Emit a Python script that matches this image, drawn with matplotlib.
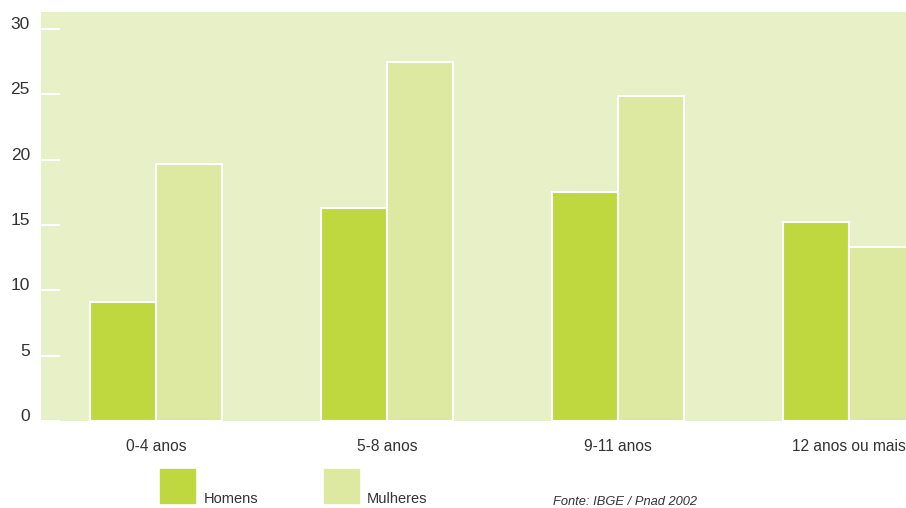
import matplotlib
matplotlib.use("Agg")
import matplotlib.pyplot as plt
import numpy as np

plt.rcParams['font.family'] = ['Liberation Sans', 'DejaVu Sans']

# dados: anos de estudo, por sexo (%)
categorias = ['0-4 anos', '5-8 anos', '9-11 anos', '12 anos ou mais']
homens = [9.1, 16.3, 17.5, 15.2]
mulheres = [19.7, 27.5, 24.9, 13.3]
yticks = [0, 5, 10, 15, 20, 25, 30]

cor_fundo = '#e8f0c8'
cor_homens = '#c0d840'
cor_mulheres = '#dde8a0'
cor_texto = '#333333'

fig = plt.figure(figsize=(9.06, 5.08), dpi=100)
ax = fig.add_axes([0.0453, 0.1713, 0.9547, 0.8051])
ax.set_facecolor(cor_fundo)

x = np.arange(len(categorias))
w = 0.286
ax.bar(x - w / 2, homens, w, color=cor_homens, edgecolor='white', linewidth=1.5)
ax.bar(x + w / 2, mulheres, w, color=cor_mulheres, edgecolor='white', linewidth=1.5)

ax.set_xlim(-0.498, 3.247)
ax.set_ylim(0, 31.3)

for s in ax.spines.values():
    s.set_visible(False)

ax.set_yticks(yticks)
ax.set_yticklabels([str(v) for v in yticks])
ax.tick_params(axis='y', direction='in', length=13.5, width=1.5, color='white',
               labelsize=12.5, labelcolor=cor_texto, pad=8)
for lab in ax.get_yticklabels():
    lab.set_verticalalignment('baseline')

ax.set_xticks(x)
ax.set_xticklabels(categorias)
ax.tick_params(axis='x', length=0, labelsize=11.2, labelcolor=cor_texto, pad=13)

# legenda manual
fig.patches.append(plt.Rectangle((160 / 906, 1 - 503 / 508), 35 / 906, 34 / 508,
                                 transform=fig.transFigure, color=cor_homens))
fig.patches.append(plt.Rectangle((324 / 906, 1 - 503 / 508), 35 / 906, 34 / 508,
                                 transform=fig.transFigure, color=cor_mulheres))
fig.text(204 / 906, 1 - 503 / 508, 'Homens', fontsize=10.5, color=cor_texto)
fig.text(367 / 906, 1 - 503 / 508, 'Mulheres', fontsize=10.5, color=cor_texto)
fig.text(553 / 906, 1 - 505 / 508, 'Fonte: IBGE / Pnad 2002', fontsize=9.3,
         style='italic', color=cor_texto)

fig.savefig('out.png', dpi=100)
